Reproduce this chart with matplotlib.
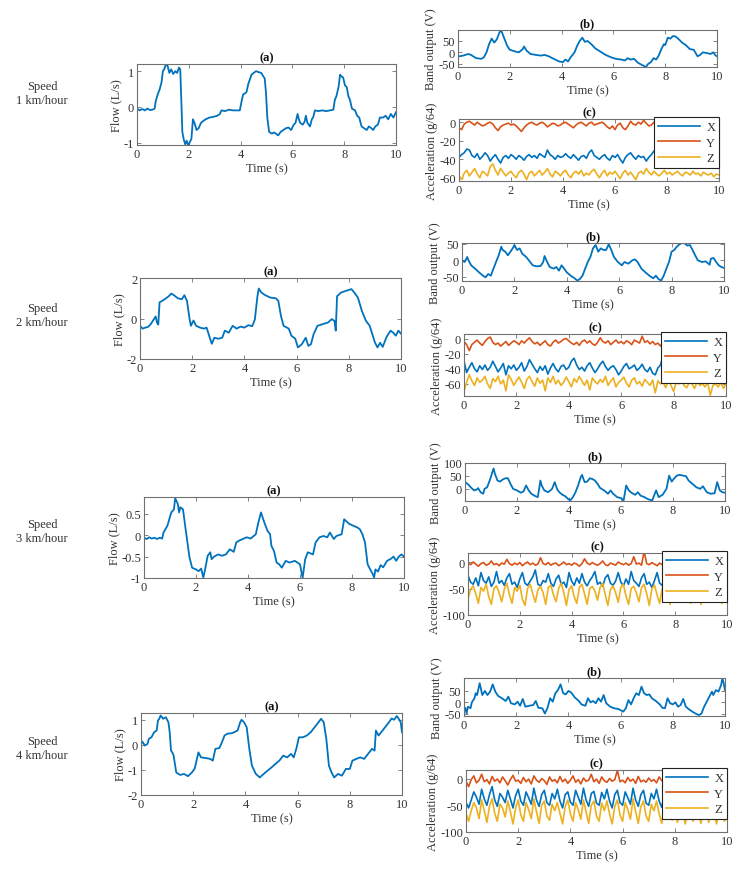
import numpy as np
import matplotlib
matplotlib.use("Agg")
import matplotlib.pyplot as plt

plt.rcParams['font.family'] = ['Liberation Serif', 'DejaVu Serif']
plt.rcParams['font.size'] = 9

# ---------------- DATA ----------------
speeds = ["1 km/hour", "2 km/hour", "3 km/hour", "4 km/hour"]
time_ticks = [0, 2, 4, 6, 8, 10]

flow1 = [(0,-0.05),(0.1,-0.1),(0.2,-0.06),(0.3,-0.1),(0.4,-0.05),(0.5,-0.09),(0.6,-0.08),(0.68,-0.05),(0.72,0.15),(0.8,0.35),(0.88,0.5),(0.95,0.7),(1.0,1.0),(1.05,1.05),(1.12,1.2),(1.18,1.15),(1.25,0.95),(1.32,1.05),(1.4,0.92),(1.48,1.0),(1.55,0.95),(1.62,1.1),(1.67,1.05),(1.71,0.2),(1.75,-0.7),(1.8,-0.9),(1.86,-1.05),(1.92,-0.95),(1.98,-1.1),(2.03,-1.0),(2.1,-0.9),(2.16,-0.35),(2.22,-0.45),(2.3,-0.65),(2.38,-0.6),(2.47,-0.45),(2.55,-0.4),(2.65,-0.35),(2.8,-0.3),(2.95,-0.28),(3.1,-0.25),(3.2,-0.2),(3.26,-0.1),(3.4,-0.12),(3.55,-0.08),(3.7,-0.1),(3.85,-0.1),(3.97,-0.1),(4.05,0.2),(4.1,0.35),(4.18,0.38),(4.23,0.42),(4.3,0.65),(4.35,0.75),(4.42,0.9),(4.5,0.95),(4.6,1.0),(4.7,0.97),(4.8,0.95),(4.88,0.85),(4.93,0.8),(4.98,0.4),(5.03,-0.3),(5.1,-0.7),(5.2,-0.75),(5.3,-0.72),(5.45,-0.8),(5.55,-0.7),(5.65,-0.65),(5.75,-0.6),(5.85,-0.58),(5.95,-0.65),(6.05,-0.5),(6.12,-0.45),(6.2,-0.2),(6.25,-0.35),(6.3,-0.45),(6.4,-0.5),(6.47,-0.42),(6.52,-0.25),(6.58,-0.45),(6.68,-0.55),(6.75,-0.35),(6.8,-0.3),(6.87,-0.1),(7.0,-0.12),(7.15,-0.1),(7.3,-0.12),(7.45,-0.1),(7.58,-0.08),(7.64,0.2),(7.7,0.3),(7.78,0.55),(7.84,0.9),(7.9,0.85),(7.96,0.82),(8.03,0.6),(8.1,0.55),(8.16,0.3),(8.22,0.2),(8.3,-0.05),(8.42,-0.1),(8.5,-0.25),(8.58,-0.3),(8.67,-0.55),(8.77,-0.6),(8.87,-0.65),(8.95,-0.55),(9.05,-0.6),(9.12,-0.65),(9.2,-0.55),(9.3,-0.5),(9.38,-0.3),(9.5,-0.3),(9.6,-0.25),(9.7,-0.35),(9.8,-0.2),(9.9,-0.3),(10.0,-0.15)]

flow2 = [(0,-0.36),(0.1,-0.5),(0.2,-0.45),(0.3,-0.42),(0.4,-0.3),(0.5,-0.1),(0.6,0.1),(0.65,-0.2),(0.7,-0.3),(0.75,0.8),(0.85,0.87),(1.0,1.0),(1.1,1.1),(1.2,1.23),(1.3,1.15),(1.45,1.0),(1.6,0.95),(1.7,1.15),(1.8,0.87),(1.9,-0.03),(1.95,-0.36),(2.05,-0.1),(2.15,-0.36),(2.3,-0.45),(2.45,-0.5),(2.55,-0.45),(2.65,-0.85),(2.75,-1.25),(2.85,-0.95),(3.0,-1.0),(3.15,-0.95),(3.25,-0.6),(3.4,-0.7),(3.55,-0.36),(3.7,-0.5),(3.85,-0.4),(4.0,-0.45),(4.15,-0.33),(4.3,-0.38),(4.4,-0.05),(4.5,1.1),(4.55,1.48),(4.65,1.28),(4.8,1.15),(5.0,1.03),(5.2,1.0),(5.3,0.87),(5.4,0.13),(5.5,-0.36),(5.7,-0.5),(5.8,-0.85),(5.95,-1.0),(6.05,-1.43),(6.2,-1.27),(6.35,-0.95),(6.45,-1.35),(6.55,-1.27),(6.65,-0.78),(6.8,-0.36),(7.0,-0.28),(7.2,-0.2),(7.35,-0.03),(7.45,-0.12),(7.5,-0.6),(7.55,1.1),(7.7,1.28),(7.9,1.37),(8.1,1.45),(8.2,1.3),(8.35,1.03),(8.5,0.38),(8.65,-0.1),(8.8,-0.36),(9.0,-1.18),(9.1,-1.43),(9.2,-1.2),(9.3,-1.4),(9.45,-0.9),(9.6,-0.6),(9.7,-0.7),(9.8,-0.85),(9.9,-0.6),(10.0,-0.75)]

flow3 = [(0,-0.06),(0.1,-0.09),(0.2,-0.05),(0.3,-0.08),(0.4,-0.06),(0.5,-0.09),(0.6,-0.06),(0.7,-0.08),(0.75,0.06),(0.9,0.22),(1.05,0.53),(1.15,0.6),(1.2,0.86),(1.3,0.73),(1.35,0.53),(1.4,0.65),(1.5,0.6),(1.6,0.14),(1.75,-0.52),(1.85,-0.76),(2.0,-0.8),(2.1,-0.84),(2.2,-0.78),(2.28,-0.99),(2.35,-0.8),(2.45,-0.48),(2.55,-0.4),(2.6,-0.56),(2.7,-0.5),(2.85,-0.45),(3.0,-0.48),(3.15,-0.45),(3.3,-0.33),(3.45,-0.39),(3.55,-0.17),(3.65,-0.13),(3.8,-0.09),(3.95,-0.05),(4.1,-0.08),(4.3,0.02),(4.4,0.3),(4.5,0.53),(4.58,0.38),(4.65,0.26),(4.75,0.1),(4.85,0.02),(4.9,-0.25),(5.0,-0.37),(5.1,-0.64),(5.2,-0.68),(5.3,-0.76),(5.45,-0.6),(5.6,-0.64),(5.8,-0.6),(6.0,-0.68),(6.1,-1.0),(6.2,-0.56),(6.3,-0.4),(6.5,-0.45),(6.6,-0.17),(6.75,-0.05),(6.9,-0.02),(7.05,-0.05),(7.15,0.06),(7.3,-0.09),(7.4,-0.02),(7.6,0.02),(7.7,0.37),(7.75,0.34),(7.9,0.26),(8.05,0.22),(8.2,0.18),(8.3,0.14),(8.4,0.02),(8.5,-0.17),(8.6,-0.68),(8.7,-0.8),(8.8,-0.91),(8.85,-0.99),(8.9,-0.8),(9.0,-0.85),(9.1,-0.7),(9.2,-0.75),(9.35,-0.6),(9.5,-0.55),(9.6,-0.5),(9.7,-0.6),(9.8,-0.5),(9.9,-0.45),(10.0,-0.5)]

flow4 = [(0,0.04),(0.05,0.13),(0.15,-0.03),(0.25,0.04),(0.3,0.24),(0.4,0.3),(0.5,0.5),(0.6,0.57),(0.65,0.97),(0.7,1.04),(0.75,1.17),(0.85,1.04),(0.95,1.1),(1.05,0.9),(1.1,0.5),(1.15,-0.23),(1.2,-0.3),(1.25,-0.43),(1.35,-1.1),(1.5,-1.2),(1.65,-1.16),(1.8,-1.25),(1.95,-1.1),(2.05,-0.96),(2.1,-0.76),(2.2,-0.3),(2.3,-0.5),(2.5,-0.53),(2.65,-0.56),(2.75,-0.63),(2.85,-0.16),(3.0,-0.13),(3.1,0.1),(3.2,0.37),(3.3,0.44),(3.5,0.47),(3.7,0.57),(3.8,0.9),(3.85,1.0),(3.95,0.9),(4.05,0.7),(4.15,-0.16),(4.25,-0.83),(4.4,-1.16),(4.55,-1.3),(4.7,-1.16),(4.85,-1.03),(5.0,-0.9),(5.15,-0.76),(5.3,-0.63),(5.45,-0.43),(5.6,-0.5),(5.75,-0.36),(5.85,-0.5),(5.95,-0.16),(6.05,0.3),(6.2,0.3),(6.35,0.37),(6.5,0.5),(6.65,0.7),(6.8,0.9),(6.9,1.04),(7.0,0.9),(7.1,0.24),(7.2,-0.83),(7.3,-1.1),(7.4,-1.3),(7.55,-1.16),(7.7,-1.23),(7.85,-0.96),(8.0,-0.96),(8.1,-0.63),(8.25,-0.56),(8.4,-0.5),(8.55,-0.56),(8.7,-0.36),(8.85,-0.16),(8.95,-0.23),(9.0,0.57),(9.1,0.37),(9.2,0.5),(9.35,0.7),(9.5,0.9),(9.6,1.05),(9.7,1.0),(9.8,1.15),(9.9,1.0),(9.95,0.9),(10.0,0.5)]

band1 = [(0,-18),(0.2,-14),(0.4,-7),(0.5,-11),(0.7,-25),(0.9,-28),(1.0,-21),(1.1,0),(1.2,35),(1.3,59),(1.4,42),(1.5,56),(1.6,85),(1.65,96),(1.7,85),(1.8,56),(1.9,28),(2.0,11),(2.2,4),(2.35,0),(2.5,14),(2.55,25),(2.65,7),(2.8,-7),(3.0,-11),(3.2,-14),(3.35,-11),(3.5,-17),(3.7,-28),(3.9,-39),(4.05,-42),(4.15,-31),(4.25,-39),(4.35,-21),(4.5,0),(4.6,28),(4.7,49),(4.8,63),(4.9,45),(5.0,49),(5.15,35),(5.3,17),(5.5,3),(5.7,-11),(5.9,-21),(6.1,-28),(6.3,-31),(6.45,-35),(6.55,-25),(6.65,-31),(6.8,-28),(6.95,-45),(7.1,-54),(7.25,-63),(7.35,-49),(7.45,-42),(7.55,-25),(7.65,-31),(7.75,-14),(7.85,14),(7.95,35),(8.0,31),(8.1,63),(8.2,59),(8.3,70),(8.4,68),(8.5,59),(8.65,42),(8.8,31),(8.95,14),(9.1,11),(9.25,-17),(9.35,-11),(9.45,0),(9.6,-3),(9.75,-7),(9.85,0),(9.95,-14),(10.0,-17)]

band2 = [(0,0),(0.1,-5),(0.2,10),(0.25,0),(0.35,-15),(0.5,-25),(0.65,-36),(0.8,-46),(0.9,-51),(1.0,-41),(1.1,-46),(1.2,-25),(1.3,-5),(1.4,15),(1.5,41),(1.55,31),(1.65,26),(1.75,15),(1.85,26),(1.95,38),(2.0,46),(2.1,31),(2.2,36),(2.3,20),(2.45,10),(2.6,-5),(2.7,-15),(2.85,-18),(3.0,-17),(3.1,-5),(3.15,13),(3.25,-5),(3.35,-20),(3.5,-25),(3.6,-20),(3.7,-31),(3.8,-15),(3.9,-25),(4.0,-36),(4.15,-46),(4.3,-54),(4.4,-61),(4.5,-56),(4.6,-46),(4.7,-25),(4.8,-5),(4.9,10),(5.0,36),(5.1,46),(5.2,26),(5.3,36),(5.4,31),(5.5,31),(5.6,48),(5.7,31),(5.8,10),(5.95,-5),(6.1,-15),(6.2,-5),(6.35,-10),(6.5,0),(6.6,3),(6.7,-5),(6.85,-25),(7.0,-36),(7.15,-46),(7.3,-54),(7.4,-46),(7.5,-56),(7.6,-61),(7.7,-46),(7.8,-25),(7.9,-5),(8.0,26),(8.1,31),(8.2,41),(8.3,48),(8.4,52),(8.5,51),(8.6,44),(8.7,46),(8.8,31),(8.9,15),(9.0,0),(9.15,-5),(9.3,-3),(9.45,-13),(9.5,5),(9.6,7),(9.7,-5),(9.8,-15),(9.9,-20),(10.0,-23)]

band3 = [(0,26),(0.1,19),(0.25,3),(0.35,-6),(0.45,-3),(0.5,3),(0.6,-13),(0.7,-19),(0.75,0),(0.85,6),(0.95,32),(1.05,64),(1.1,79),(1.15,58),(1.25,32),(1.35,28),(1.45,36),(1.55,41),(1.65,41),(1.75,19),(1.85,0),(2.0,-6),(2.15,-15),(2.25,-10),(2.35,13),(2.45,-6),(2.55,-19),(2.7,-28),(2.8,-32),(2.9,32),(2.95,13),(3.05,-6),(3.2,-13),(3.35,0),(3.45,26),(3.55,-3),(3.65,-15),(3.75,-23),(3.85,-28),(3.95,-38),(4.05,-45),(4.15,-32),(4.25,-13),(4.35,13),(4.45,45),(4.5,54),(4.6,26),(4.7,28),(4.8,41),(4.9,38),(5.0,32),(5.1,19),(5.2,3),(5.35,-6),(5.5,-19),(5.6,-6),(5.7,-19),(5.85,-32),(6.0,-36),(6.1,-45),(6.2,13),(6.3,-6),(6.4,-15),(6.55,-23),(6.65,-13),(6.75,-26),(6.9,-32),(7.0,-38),(7.1,-42),(7.2,-45),(7.35,-6),(7.45,-32),(7.6,-23),(7.75,0),(7.85,51),(7.95,28),(8.05,41),(8.15,51),(8.25,54),(8.4,51),(8.5,49),(8.6,32),(8.75,19),(8.9,6),(9.05,0),(9.15,10),(9.3,-13),(9.45,-19),(9.6,-17),(9.7,26),(9.8,-6),(9.9,-13),(10.0,-15)]

band4 = [(0,-41),(0.05,-24),(0.1,-49),(0.15,-19),(0.25,-26),(0.3,0),(0.4,18),(0.45,40),(0.5,32),(0.6,84),(0.65,59),(0.7,32),(0.8,50),(0.9,32),(1.0,47),(1.1,79),(1.2,47),(1.3,29),(1.45,18),(1.6,6),(1.7,25),(1.8,-4),(1.95,-9),(2.05,3),(2.15,-15),(2.25,15),(2.35,-19),(2.5,-15),(2.65,-12),(2.75,6),(2.85,-24),(3.0,-26),(3.1,-49),(3.2,-24),(3.3,18),(3.4,3),(3.5,40),(3.6,54),(3.7,79),(3.8,40),(3.9,35),(4.0,50),(4.1,44),(4.25,21),(4.4,6),(4.5,-9),(4.65,-15),(4.75,18),(4.85,0),(4.95,6),(5.05,-4),(5.15,18),(5.25,3),(5.35,32),(5.45,-4),(5.6,-19),(5.75,-26),(5.9,-29),(6.0,-34),(6.1,-41),(6.2,-26),(6.3,10),(6.4,-9),(6.5,18),(6.6,40),(6.7,32),(6.8,69),(6.9,40),(7.0,32),(7.1,35),(7.2,18),(7.35,6),(7.5,-9),(7.6,-24),(7.7,-26),(7.8,18),(7.9,-4),(8.0,-9),(8.1,0),(8.2,-19),(8.3,-12),(8.4,15),(8.5,-19),(8.6,-29),(8.75,-41),(8.9,-51),(9.0,-56),(9.1,-49),(9.2,-19),(9.3,3),(9.4,25),(9.5,47),(9.55,32),(9.65,54),(9.75,47),(9.85,76),(9.9,106),(9.95,84),(10.0,54)]

# acceleration (g/64), sampled every 0.1 s from 0 to 10 s
accX1 = [-38,-35,-33,-29,-30,-36,-38,-34,-40,-37,-33,-36,-42,-38,-35,-40,-44,-38,-36,-39,
         -35,-37,-40,-36,-38,-41,-37,-35,-38,-36,-39,-34,-36,-38,-30,-35,-37,-40,-36,-38,
         -37,-34,-37,-39,-35,-38,-41,-37,-36,-39,-33,-30,-36,-38,-40,-37,-35,-39,-41,-36,
         -38,-35,-40,-44,-38,-35,-33,-37,-40,-36,-38,-37,-42,-38,-35,-31,-36,-38,-37,-35,
         -38,-36,-34,-37,-39,-35,-38,-36,-40,-37,-35,-38,-36,-37,-39,-36,-38,-35,-37,-36,-38]
accY1 = [-6,-8,-2,0,1,-1,-3,0,-2,-4,-3,-1,0,-2,-6,-9,-5,-3,-2,-1,
         -3,-2,-4,-7,-10,-6,-3,-1,0,-2,-3,-1,0,-2,-5,-3,-1,-2,-4,-3,
         -1,0,-2,-4,-6,-3,-1,0,-2,-4,-1,0,-3,-2,-1,0,-2,-5,-7,-4,
         -8,-3,-1,-6,-8,-4,1,-2,-3,0,-2,2,-1,-4,-3,0,-2,-4,-3,-1,
         -2,-4,-3,-1,-2,0,-3,-5,-4,-1,-2,-3,-1,0,-2,-4,-3,-1,-2,-3,-2]
accZ1 = [-58,-62,-55,-52,-58,-54,-50,-56,-60,-53,-55,-58,-48,-45,-52,-57,-50,-54,-58,-55,
         -53,-57,-60,-54,-52,-56,-62,-55,-53,-58,-55,-52,-57,-54,-50,-56,-59,-53,-55,-58,
         -54,-52,-57,-60,-55,-53,-56,-52,-58,-55,-57,-53,-51,-56,-60,-55,-52,-58,-54,-56,
         -53,-57,-61,-55,-52,-57,-54,-58,-62,-55,-53,-56,-50,-54,-57,-53,-56,-58,-55,-52,
         -56,-54,-57,-55,-53,-56,-58,-54,-55,-57,-53,-56,-55,-58,-54,-56,-57,-55,-59,-56,-57]

accX2 = [-30,-45,-38,-32,-40,-44,-36,-41,-35,-42,-38,-30,-37,-44,-39,-33,-48,-36,-40,-35,
         -42,-38,-32,-43,-37,-28,-34,-40,-45,-37,-42,-36,-47,-39,-33,-40,-44,-37,-35,-41,
         -38,-30,-26,-35,-41,-38,-43,-36,-32,-39,-45,-40,-34,-30,-37,-42,-38,-36,-41,-48,
         -43,-37,-33,-40,-38,-35,-42,-39,-34,-41,-44,-38,-46,-48,-39,-35,-22,-38,-41,-36,
         -40,-37,-35,-42,-38,-36,-40,-39,-37,-41,-38,-36,-40,-38,-37,-39,-41,-38,-36,-40,-38]
accY2 = [-4,-8,-16,-8,-5,-2,-6,-9,-4,0,2,-5,-8,-6,-10,-7,-4,-9,-6,-3,
         -5,-8,-3,-6,-2,1,-4,-7,-5,-9,-6,-3,-8,-10,-5,-2,-6,-4,-1,0,
         -3,-6,-8,-5,-9,-4,-2,-6,-3,-7,-9,-5,1,-4,-6,-3,-8,-5,-2,-6,
         -4,-7,-3,-5,-8,-2,-4,-6,3,-5,-3,-7,-4,-8,-6,-10,-5,-3,-6,-4,
         -7,-5,-3,-6,-4,-8,-5,-3,-6,-7,-4,-5,-8,-6,-3,-5,-7,-4,-6,-5,-4]
accZ2 = [-70,-58,-48,-56,-62,-52,-58,-55,-50,-60,-66,-53,-57,-50,-60,-55,-69,-48,-54,-62,
         -56,-51,-58,-66,-54,-50,-57,-63,-52,-59,-55,-69,-52,-58,-50,-60,-55,-62,-58,-51,
         -57,-64,-53,-58,-50,-56,-62,-55,-68,-52,-57,-60,-54,-58,-50,-62,-56,-52,-64,-58,
         -55,-51,-59,-64,-55,-52,-60,-57,-63,-54,-58,-62,-55,-72,-56,-60,-58,-65,-55,-62,
         -70,-58,-60,-56,-62,-65,-58,-60,-66,-57,-62,-60,-64,-58,-75,-62,-60,-64,-58,-66,-60]

accX3 = [-25,-38,-42,-30,-45,-20,-35,-40,-28,-46,-38,-18,-40,-35,-44,-30,-22,-42,-38,-48,
         -32,-20,-40,-44,-36,-28,-15,-42,-45,-35,-38,-22,-40,-46,-32,-25,-42,-38,-48,-20,
         -36,-44,-30,-40,-22,-38,-45,-35,-28,-18,-42,-38,-46,-30,-24,-40,-44,-36,-20,-38,
         -45,-32,-42,-18,-35,-40,-46,-30,-22,-42,-38,-48,-35,-20,-40,-44,-30,-15,-38,-42,
         -35,-40,-38,-42,-36,-40,-38,-44,-36,-40,-38,-42,-37,-40,-39,-41,-38,-40,-37,-42,-39]
accY3 = [-2,-5,0,-4,-8,-3,-1,-6,-4,2,-5,-3,-7,-2,-4,5,-3,-6,-2,-5,
         -1,-7,-3,0,-5,-2,-6,-4,8,-3,-5,-1,-6,-3,-2,-7,-4,0,-5,-3,
         -6,-2,-4,-8,-3,6,-2,-5,-1,-4,-6,-3,2,-5,-7,-2,-4,-6,0,-3,
         -5,-2,-6,-3,10,-4,-2,-6,20,-3,-5,-1,-4,-7,-2,-5,-3,-6,-4,-2,
         -5,-3,-6,-4,-2,-5,-3,-7,-4,-2,-5,-3,-6,-4,-5,-3,-6,-2,-4,-5,-3]
accZ3 = [-70,-52,-45,-60,-78,-48,-55,-42,-65,-80,-50,-45,-58,-75,-52,-40,-62,-78,-48,-55,
         -44,-70,-82,-50,-42,-60,-76,-52,-46,-58,-80,-48,-44,-62,-75,-50,-40,-58,-82,-52,
         -45,-66,-78,-48,-42,-60,-80,-50,-46,-55,-72,-48,-40,-62,-82,-52,-45,-58,-76,-48,
         -42,-64,-80,-50,-46,-58,-75,-48,-42,-60,-82,-50,-44,-62,-78,-50,-40,-58,-80,-52,
         -48,-62,-76,-52,-50,-60,-78,-54,-50,-62,-80,-52,-48,-60,-76,-54,-50,-62,-78,-52,-55]

accX4 = [-45,-55,-40,-25,-35,-48,-20,-38,-50,-30,-15,-40,-52,-28,-35,-45,-22,-38,-55,-32,
         -20,-42,-50,-25,-36,-48,-18,-40,-52,-30,-22,-45,-50,-28,-38,-20,-42,-55,-30,-25,
         -44,-50,-22,-35,-48,-18,-40,-52,-28,-24,-46,-50,-26,-38,-20,-42,-55,-30,-22,-45,
         -50,-25,-36,-48,-18,-40,-52,-30,-22,-46,-50,-28,-38,-20,-42,-54,-30,-15,-40,-48,
         -35,-42,-38,-45,-36,-40,-44,-38,-42,-36,-40,-44,-38,-42,-36,-40,-38,-44,-36,-40,-38]
accY4 = [-5,-15,-2,5,-8,-3,8,-6,-2,-10,4,-5,-1,-8,3,-4,-12,-2,6,-5,
         -3,-9,2,-6,-1,-10,5,-3,-7,0,-4,-11,3,-5,-2,-8,4,-6,-1,-9,
         -3,5,-7,-2,-10,1,-5,-3,8,-6,-1,-9,3,-4,-7,0,-5,-2,15,-6,
         -3,-8,2,-5,-1,-9,4,-6,-3,-7,1,-5,-2,-8,3,-4,-6,-1,-5,-3,
         -6,-2,-5,-4,-3,-6,-2,-5,-4,-3,-6,-2,-5,-3,-4,-6,-2,-5,-3,-4,-5]
accZ4 = [-65,-80,-60,-45,-55,-75,-40,-60,-82,-52,-38,-65,-80,-48,-55,-72,-42,-62,-85,-55,
         -40,-68,-80,-45,-58,-75,-38,-62,-84,-50,-42,-70,-78,-48,-60,-45,-65,-85,-52,-40,
         -66,-80,-45,-58,-76,-40,-62,-84,-50,-42,-70,-80,-46,-60,-42,-66,-85,-52,-40,-68,
         -80,-45,-58,-76,-38,-62,-84,-52,-42,-70,-80,-48,-60,-42,-66,-84,-52,-38,-62,-78,
         -60,-82,-62,-60,-85,-62,-58,-80,-60,-62,-84,-60,-58,-82,-60,-62,-85,-60,-58,-80,-62]

flow_ylims = [(-1.07, 1.2), (-2, 2), (-1, 0.89), (-2, 1.27)]
flow_yticks = [[-1, 0, 1], [-2, 0, 2], [-1, -0.5, 0, 0.5], [-2, -1, 0, 1]]
band_ylims = [(-63, 96), (-62, 52), (-47, 100), (-60, 107)]
band_yticks = [[-50, 0, 50], [-50, 0, 50], [0, 50, 100], [-50, 0, 50]]
acc_ylims = [(-63.5, 3.5), (-76, 6), (-100, 17), (-100, 16)]
acc_yticks = [[-60, -40, -20, 0], [-60, -40, -20, 0], [-100, -50, 0], [-100, -50, 0]]

flows = [flow1, flow2, flow3, flow4]
bands = [band1, band2, band3, band4]
accs = [(accX1, accY1, accZ1), (accX2, accY2, accZ2), (accX3, accY3, accZ3), (accX4, accY4, accZ4)]

# ---------------- LAYOUT (pixels) ----------------
W, H = 744, 878
fig = plt.figure(figsize=(W / 100, H / 100), dpi=100)

flow_boxes = [(137, 65, 396, 146), (140, 279, 401, 360), (144, 498, 404, 579), (141, 714, 402, 796)]
band_boxes = [(458, 31, 717, 68), (462, 244, 724, 282), (465, 464, 725, 502), (464, 679, 725, 717)]
acc_boxes = [(459, 120, 719, 182), (464, 335, 726, 397), (468, 554, 727, 616), (466, 771, 727, 833)]
speed_y = [94, 316, 532, 749]

C_BLUE, C_RED, C_YEL = '#0072BD', '#D95319', '#EDB120'
TXT = '#333333'
SPINE = '#707070'


def add_ax(box):
    x0, y0, x1, y1 = box
    return fig.add_axes([x0 / W, 1 - y1 / H, (x1 - x0) / W, (y1 - y0) / H])


def style(ax, ylim, yticks, title):
    ax.set_xlim(0, 10)
    ax.set_ylim(*ylim)
    ax.set_xticks(time_ticks)
    ax.set_yticks(yticks)
    ax.set_yticklabels([('%g' % v) for v in yticks])
    ax.tick_params(direction='in', top=True, right=True, length=3, width=0.6,
                   colors=SPINE, labelcolor=TXT, labelsize=9, pad=2)
    for s in ax.spines.values():
        s.set_color(SPINE)
        s.set_linewidth(0.8)
    ax.set_xlabel('Time (s)', color=TXT, fontsize=9, labelpad=2)
    ax.set_title(title, fontweight='bold', fontsize=9, color='#111111', pad=3)


for i in range(4):
    # flow
    ax = add_ax(flow_boxes[i])
    t, v = zip(*flows[i])
    ax.plot(t, v, color=C_BLUE, lw=1.3)
    style(ax, flow_ylims[i], flow_yticks[i], '(a)')
    ax.set_ylabel('Flow (L/s)', color=TXT, fontsize=9, labelpad=1)

    # band
    ax = add_ax(band_boxes[i])
    t, v = zip(*bands[i])
    ax.plot(t, v, color=C_BLUE, lw=1.3)
    style(ax, band_ylims[i], band_yticks[i], '(b)')
    ax.set_ylabel('Band output (V)', color=TXT, fontsize=9, labelpad=1)

    # acceleration
    ax = add_ax(acc_boxes[i])
    ax_x, ax_y, ax_z = accs[i]
    lines = []
    for arr, c in ((ax_x, C_BLUE), (ax_y, C_RED), (ax_z, C_YEL)):
        tt = np.linspace(0, 10, len(arr))
        ln, = ax.plot(tt, arr, color=c, lw=1.2)
        lines.append(ln)
    style(ax, acc_ylims[i], acc_yticks[i], '(c)')
    ax.set_ylabel('Acceleration (g/64)', color=TXT, fontsize=9, labelpad=1)
    leg = ax.legend(lines, ['X', 'Y', 'Z'], loc='upper right', bbox_to_anchor=(1.0, 1.03),
                    fontsize=9, handlelength=3.4, handletextpad=0.5, labelspacing=0.3,
                    borderpad=0.3, borderaxespad=0, fancybox=False, framealpha=1,
                    edgecolor='#222222')
    leg.get_frame().set_linewidth(0.8)
    for txt in leg.get_texts():
        txt.set_color(TXT)

    # speed label
    fig.text(42 / W, 1 - speed_y[i] / H, 'Speed\n' + speeds[i], ha='center', va='center',
             fontsize=9, color=TXT, linespacing=1.3)

fig.savefig('out.png', dpi=100)
